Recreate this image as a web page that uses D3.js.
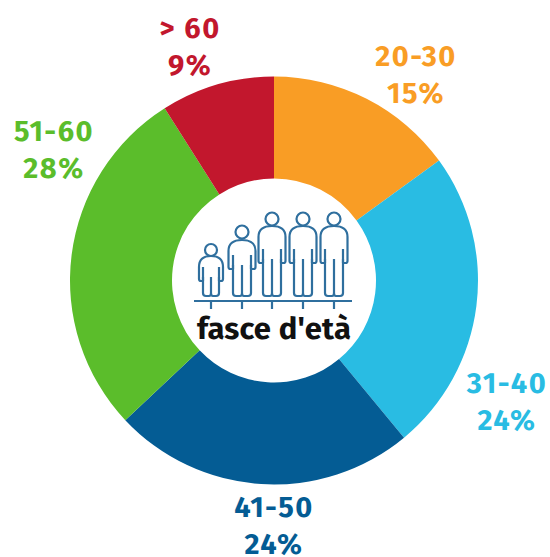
<!DOCTYPE html>
<html>
<head>
<meta charset="utf-8">
<script src="https://cdn.jsdelivr.net/npm/d3@7"></script>
<style>
  html, body { margin: 0; padding: 0; background: #fff; }
  svg { display: block; }
  text { font-family: "Fira Sans", "Noto Sans", sans-serif; font-weight: 700; text-anchor: middle; }
</style>
</head>
<body>
<svg id="chart" width="550" height="557"></svg>
<script>
const categories = ['20-30', '31-40', '41-50', '51-60', '> 60'];
const shares = [15, 24, 24, 28, 9];
const colors = ['#f99d25', '#29bce3', '#045c94', '#5bbd2b', '#c2172d'];

// where each label sits, same order as categories
const labelX = [416, 507, 274, 54, 190];
const labelY = [66, 393, 517, 141, 38];

// head y, torso top, torso bottom for each little person
const peopleX = [211, 242, 272, 303, 334];
const headY = [250, 232, 219, 219, 219];
const torsoTop = [256, 240, 226, 226, 226];
const torsoBottom = [281, 269, 263, 263, 263];

const svg = d3.select('#chart');
const cx = 274, cy = 280.5;

const pie = d3.pie().sort(null).value(d => d);
const arc = d3.arc().innerRadius(102).outerRadius(204);

const donut = svg.append('g').attr('transform', `translate(${cx},${cy})`);
donut.selectAll('path')
	.data(pie(shares))
	.enter()
	.append('path')
	.attr('d', arc)
	.attr('fill', (d, i) => colors[i]);

// labels: two lines, range then percent
const labels = svg.selectAll('g.label')
	.data(categories)
	.enter()
	.append('g')
	.attr('class', 'label')
	.attr('fill', (d, i) => colors[i])
	.attr('font-size', 29)
	.attr('letter-spacing', 1.5);
labels.append('text')
	.attr('x', (d, i) => labelX[i])
	.attr('y', (d, i) => labelY[i])
	.text(d => d);
labels.append('text')
	.attr('x', (d, i) => labelX[i])
	.attr('y', (d, i) => labelY[i] + 37)
	.text((d, i) => shares[i] + '%');

// the icon in the middle of the hole
const icon = svg.append('g')
	.attr('fill', 'none')
	.attr('stroke', '#2f6f9e')
	.attr('stroke-width', 2.2);

icon.append('line').attr('x1', 194).attr('x2', 352).attr('y1', 301).attr('y2', 301);

const person = icon.selectAll('g.person')
	.data(peopleX)
	.enter()
	.append('g')
	.attr('class', 'person');

person.append('line')
	.attr('x1', d => d).attr('x2', d => d)
	.attr('y1', 301).attr('y2', 309);

person.append('circle')
	.attr('cx', d => d)
	.attr('cy', (d, i) => headY[i])
	.attr('r', (d, i) => i === 0 ? 6 : 6.5);

person.append('path').attr('d', (d, i) => {
	const t = torsoTop[i], b = torsoBottom[i];
	const w = i === 0 ? 12 : 13.5;
	return `M${d - w + 5},${b}H${d - w + 2}Q${d - w},${b} ${d - w},${b - 2}` +
		`V${t + 11}Q${d - w},${t} ${d},${t}Q${d + w},${t} ${d + w},${t + 11}` +
		`V${b - 2}Q${d + w},${b} ${d + w - 2},${b}H${d + w - 5}`;
});

// arms
person.append('path').attr('d', (d, i) => {
	const b = torsoBottom[i];
	const w = i === 0 ? 8 : 9;
	return `M${d - w},${b}V${b - 14}M${d + w},${b}V${b - 14}`;
});

// legs
person.append('path').attr('d', (d, i) => {
	const b = torsoBottom[i] - 4;
	const w = i === 0 ? 8 : 9;
	return `M${d - w},${b}V293Q${d - w},296 ${d - w + 3},296H${d - 2}Q${d},296 ${d},293V${b}` +
		`M${d},293Q${d},296 ${d + 2},296H${d + w - 3}Q${d + w},296 ${d + w},293V${b}`;
});

svg.append('text')
	.attr('x', 274)
	.attr('y', 339)
	.attr('font-size', 31)
	.attr('letter-spacing', 0.2)
	.attr('fill', '#111')
	.text("fasce d'età");
</script>
</body>
</html>
